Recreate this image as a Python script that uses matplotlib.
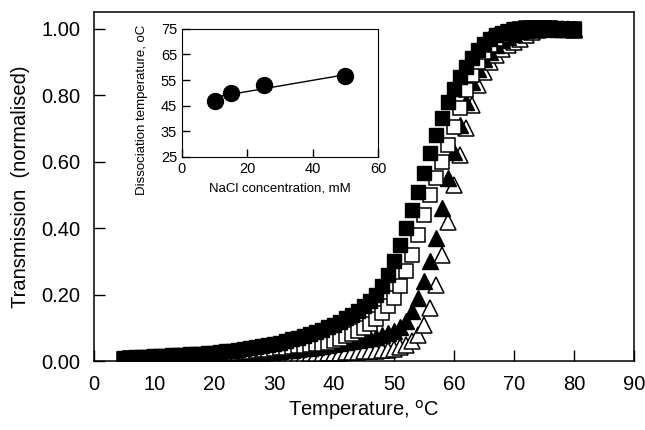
import numpy as np
import matplotlib
matplotlib.use("Agg")
import matplotlib.pyplot as plt

plt.rcParams['font.family'] = ['Liberation Sans', 'DejaVu Sans']

# Temperature (C) for each reading
temp = list(range(5, 81))

# Normalised transmission, one value per degree from 5 to 80 C
filled_sq = [0.010, 0.011, 0.012, 0.013, 0.014,
             0.015, 0.016, 0.017, 0.018, 0.019,
             0.020, 0.021, 0.022, 0.023, 0.024,
             0.026, 0.028, 0.030, 0.032, 0.034,
             0.036, 0.039, 0.042, 0.045, 0.048,
             0.052, 0.056, 0.061, 0.066, 0.071,
             0.076, 0.082, 0.088, 0.095, 0.102,
             0.110, 0.119, 0.129, 0.140, 0.152,
             0.166, 0.182, 0.200, 0.225, 0.260,
             0.300, 0.350, 0.400, 0.455, 0.510,
             0.565, 0.625, 0.680, 0.730, 0.780,
             0.820, 0.855, 0.885, 0.912, 0.935,
             0.955, 0.970, 0.980, 0.988, 0.994,
             0.998, 1.000, 1.002, 1.003, 1.003,
             1.003, 1.002, 1.001, 1.000, 0.999, 0.998]

open_sq = [0.008, 0.009, 0.010, 0.010, 0.011,
           0.012, 0.012, 0.013, 0.014, 0.014,
           0.015, 0.016, 0.017, 0.018, 0.019,
           0.020, 0.021, 0.022, 0.024, 0.025,
           0.027, 0.029, 0.031, 0.033, 0.035,
           0.037, 0.039, 0.041, 0.043, 0.045,
           0.047, 0.049, 0.051, 0.053, 0.056,
           0.062, 0.068, 0.075, 0.082, 0.090,
           0.100, 0.112, 0.128, 0.145, 0.165,
           0.190, 0.225, 0.270, 0.320, 0.380,
           0.440, 0.500, 0.550, 0.600, 0.650,
           0.705, 0.760, 0.815, 0.860, 0.900,
           0.930, 0.950, 0.968, 0.980, 0.990,
           0.996, 1.000, 1.002, 1.002, 1.002,
           1.002, 1.001, 1.000, 1.000, 0.999, 0.998]

filled_tri = [0.008, 0.008, 0.009, 0.009, 0.010,
              0.010, 0.011, 0.011, 0.012, 0.012,
              0.013, 0.013, 0.014, 0.015, 0.015,
              0.016, 0.017, 0.018, 0.019, 0.020,
              0.021, 0.022, 0.023, 0.025, 0.027,
              0.029, 0.031, 0.033, 0.035, 0.037,
              0.039, 0.041, 0.043, 0.046, 0.049,
              0.052, 0.055, 0.058, 0.061, 0.064,
              0.067, 0.070, 0.074, 0.079, 0.085,
              0.092, 0.102, 0.120, 0.150, 0.190,
              0.240, 0.300, 0.370, 0.460, 0.550,
              0.630, 0.710, 0.780, 0.840, 0.880,
              0.910, 0.930, 0.950, 0.965, 0.975,
              0.985, 0.992, 0.997, 1.000, 1.001,
              1.001, 1.001, 1.000, 1.000, 0.999, 0.998]

open_tri = [0.006, 0.006, 0.007, 0.007, 0.007,
            0.008, 0.008, 0.008, 0.009, 0.009,
            0.009, 0.010, 0.010, 0.010, 0.011,
            0.011, 0.012, 0.012, 0.013, 0.013,
            0.014, 0.014, 0.015, 0.015, 0.016,
            0.016, 0.017, 0.018, 0.018, 0.019,
            0.020, 0.021, 0.022, 0.023, 0.024,
            0.025, 0.026, 0.027, 0.028, 0.029,
            0.030, 0.031, 0.032, 0.033, 0.035,
            0.037, 0.042, 0.050, 0.060, 0.080,
            0.110, 0.160, 0.230, 0.320, 0.420,
            0.530, 0.620, 0.700, 0.770, 0.830,
            0.870, 0.900, 0.920, 0.940, 0.950,
            0.960, 0.970, 0.980, 0.990, 0.995,
            1.000, 1.000, 1.000, 0.999, 0.998, 0.997]

# inset: dissociation temperature vs NaCl
nacl = [10, 15, 25, 50]
t_diss = [47, 50, 53, 56.5]

fig = plt.figure(figsize=(6.45, 4.3), dpi=100)
ax = fig.add_axes([0.146, 0.160, 0.837, 0.812])

ax.plot(temp, open_tri, '^', ms=11, mfc='white', mec='black', mew=1.1, ls='none')
ax.plot(temp, filled_tri, '^', ms=11, mfc='black', mec='black', ls='none')
ax.plot(temp, open_sq, 's', ms=10.5, mfc='white', mec='black', mew=1.1, ls='none')
ax.plot(temp, filled_sq, 's', ms=10.5, mfc='black', mec='black', ls='none')

ax.set_xlim(0, 90)
ax.set_ylim(0, 1.05)
ax.set_xticks(range(0, 91, 10))
ax.set_yticks([0, 0.2, 0.4, 0.6, 0.8, 1.0])
ax.set_yticklabels(['0.00', '0.20', '0.40', '0.60', '0.80', '1.00'])
ax.tick_params(direction='in', length=8, width=1, labelsize=14.5)
ax.tick_params(axis='x', pad=10)
ax.tick_params(axis='y', pad=10)
for s in ax.spines.values():
    s.set_linewidth(1.1)
ax.set_xlabel('Temperature, $^{\\rm o}$C', fontsize=14.5, labelpad=3)
ax.set_ylabel('Transmission  (normalised)', fontsize=14.5, labelpad=8)

# inset
ins = fig.add_axes([0.282, 0.635, 0.304, 0.298])
fit = np.polyfit(nacl, t_diss, 1)
xs = np.array([min(nacl), max(nacl)])
ins.plot(xs, np.polyval(fit, xs), color='black', lw=1)
ins.plot(nacl, t_diss, 'o', ms=11.5, color='black')
ins.set_xlim(0, 60)
ins.set_ylim(25, 75)
ins.set_xticks([0, 20, 40, 60])
ins.set_yticks(range(25, 76, 10))
ins.tick_params(direction='in', length=6, width=1, labelsize=10.5)
ins.set_xlabel('NaCl concentration, mM', fontsize=9.5, labelpad=5)
ins.set_ylabel('Dissociation temperature, oC', fontsize=9.5)
ins.yaxis.set_label_coords(-0.175, 0.37)

fig.savefig('out.png', dpi=100)
